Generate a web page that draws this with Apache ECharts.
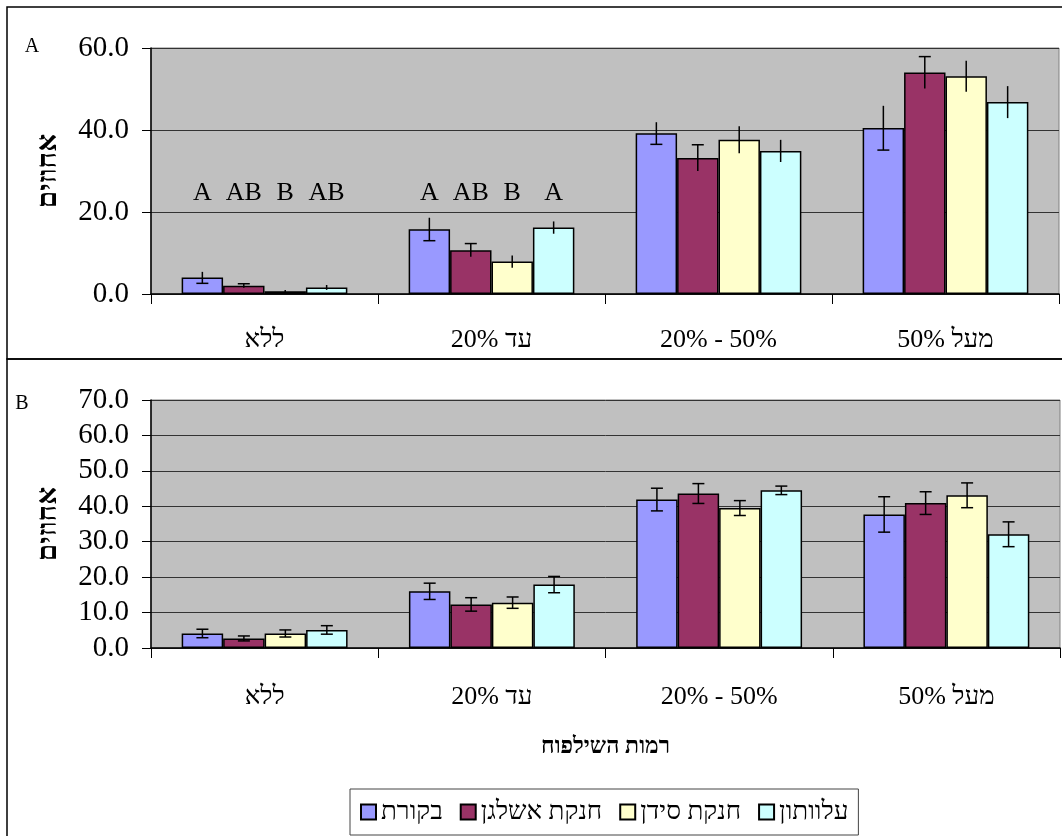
<!DOCTYPE html>
<html>
<head>
<meta charset="utf-8">
<script src="https://cdn.jsdelivr.net/npm/echarts@6.0.0/dist/echarts.min.js"></script>
<style>
  html, body { margin: 0; padding: 0; background: #fff; }
  #chart { width: 1062px; height: 836px; }
</style>
</head>
<body>
<div id="chart"></div>
<script>
// categories: pruning levels
const categories = ["ללא", "עד 20%", "20% - 50%", "מעל 50%"];
const seriesNames = ["בקורת", "חנקת אשלגן", "חנקת סידן", "עלוותון"];
const colors = ["#9999FF", "#993366", "#FFFFCC", "#CCFFFF"];

// panel A
const controlA = [4.0, 15.8, 39.2, 40.5];
const potassiumA = [2.0, 10.7, 33.2, 54.0];
const calciumA = [0.7, 7.9, 37.6, 53.1];
const foliarA = [1.6, 16.2, 34.9, 46.8];
const errControlA = [1.4, 2.8, 2.7, 5.4];
const errPotassiumA = [0.5, 1.6, 3.2, 3.9];
const errCalciumA = [0.3, 1.5, 3.3, 3.8];
const errFoliarA = [0.6, 1.5, 2.7, 3.9];
// significance letters, per series then per category
const lettersA = [
  ["A", "A", "", ""],
  ["AB", "AB", "", ""],
  ["B", "B", "", ""],
  ["AB", "A", "", ""],
];
const letterLevelA = 24.6;

// panel B
const controlB = [4.1, 16.0, 41.9, 37.7];
const potassiumB = [2.7, 12.3, 43.6, 40.9];
const calciumB = [4.1, 12.8, 39.5, 43.1];
const foliarB = [5.1, 17.9, 44.5, 32.1];
const errControlB = [1.2, 2.3, 3.2, 5.0];
const errPotassiumB = [0.7, 1.9, 2.8, 3.2];
const errCalciumB = [1.0, 1.6, 2.1, 3.5];
const errFoliarB = [1.2, 2.3, 1.2, 3.5];

const valuesA = [controlA, potassiumA, calciumA, foliarA];
const errorsA = [errControlA, errPotassiumA, errCalciumA, errFoliarA];
const valuesB = [controlB, potassiumB, calciumB, foliarB];
const errorsB = [errControlB, errPotassiumB, errCalciumB, errFoliarB];
// which end of the error bar gets a cap
const capsA = ["bottom", "top", "none", "none"];
const capsB = ["both", "both", "both", "both"];

const FONT = '"Liberation Serif", "DejaVu Serif", serif';
const CAT_GAP = 0.27;

function barSeries(k, values, g) {
  return {
    type: "bar",
    name: seriesNames[k],
    xAxisIndex: g,
    yAxisIndex: g,
    data: values,
    barGap: "0%",
    barCategoryGap: CAT_GAP * 100 + "%",
    itemStyle: { color: colors[k], borderColor: "#000", borderWidth: 1.5 },
    emphasis: { disabled: true },
    silent: true,
  };
}

function errorSeries(k, values, errs, cap, g) {
  return {
    type: "custom",
    xAxisIndex: g,
    yAxisIndex: g,
    z: 10,
    silent: true,
    data: values.map((v, i) => [i, v, errs[i]]),
    renderItem: function (params, api) {
      let cat = api.value(0);
      let v = api.value(1);
      let e = api.value(2);
      let band = api.size([1, 0])[0];
      let barW = (band * (1 - CAT_GAP)) / 4;
      let x = api.coord([cat, v])[0] + (k - 1.5) * barW;
      let yTop = api.coord([cat, v + e])[1];
      let yBot = api.coord([cat, Math.max(v - e, 0)])[1];
      let st = { stroke: "#000", lineWidth: 1.5 };
      let children = [
        { type: "line", shape: { x1: x, y1: yTop, x2: x, y2: yBot }, style: st },
      ];
      if (cap === "top" || cap === "both") {
        children.push({ type: "line", shape: { x1: x - 6, y1: yTop, x2: x + 6, y2: yTop }, style: st });
      }
      if (cap === "bottom" || cap === "both") {
        children.push({ type: "line", shape: { x1: x - 6, y1: yBot, x2: x + 6, y2: yBot }, style: st });
      }
      return { type: "group", children: children };
    },
  };
}

function letterSeries(k, g) {
  return {
    type: "custom",
    xAxisIndex: g,
    yAxisIndex: g,
    z: 11,
    silent: true,
    data: categories.map((c, i) => [i, letterLevelA]),
    renderItem: function (params, api) {
      let cat = api.value(0);
      let band = api.size([1, 0])[0];
      let barW = (band * (1 - CAT_GAP)) / 4;
      let p = api.coord([cat, api.value(1)]);
      return {
        type: "text",
        x: p[0] + (k - 1.5) * barW,
        y: p[1],
        style: {
          text: lettersA[k][params.dataIndex],
          font: "26px " + FONT,
          fill: "#000",
          align: "center",
          verticalAlign: "middle",
        },
      };
    },
  };
}

function xAxis(g, margin, name) {
  return {
    type: "category",
    gridIndex: g,
    data: categories,
    axisLine: { lineStyle: { color: "#000", width: 1.5 } },
    axisTick: { show: true, length: 10, alignWithLabel: false, lineStyle: { color: "#000" } },
    axisLabel: { color: "#000", fontSize: 26, fontFamily: FONT, margin: margin },
    splitLine: { show: false },
    name: name,
    nameLocation: "middle",
    nameGap: 88,
    nameTextStyle: { color: "#000", fontSize: 23, fontWeight: "bold", fontFamily: FONT },
  };
}

function yAxis(g, max, interval) {
  return {
    type: "value",
    gridIndex: g,
    min: 0,
    max: max,
    interval: interval,
    axisLine: { show: true, lineStyle: { color: "#000", width: 1.5 } },
    axisTick: { show: true, length: 9, lineStyle: { color: "#000" } },
    axisLabel: {
      color: "#000",
      fontSize: 29,
      fontFamily: FONT,
      margin: 22,
      formatter: (v) => v.toFixed(1),
    },
    splitLine: { show: true, lineStyle: { color: "#333", width: 1 } },
    name: "אחוזים",
    nameLocation: "middle",
    nameGap: 88,
    nameRotate: 90,
    nameTextStyle: { color: "#000", fontSize: 28, fontWeight: "bold", fontFamily: FONT },
  };
}

let series = [];
valuesA.forEach((vals, k) => series.push(barSeries(k, vals, 0)));
valuesB.forEach((vals, k) => series.push(barSeries(k, vals, 1)));
valuesA.forEach((vals, k) => series.push(errorSeries(k, vals, errorsA[k], capsA[k], 0)));
valuesB.forEach((vals, k) => series.push(errorSeries(k, vals, errorsB[k], capsB[k], 1)));
lettersA.forEach((l, k) => series.push(letterSeries(k, 0)));

let chart = echarts.init(document.getElementById("chart"));
chart.setOption({
  animation: false,
  backgroundColor: "#fff",
  grid: [
    {
      left: 151, top: 48, width: 908, height: 246,
      show: true, backgroundColor: "#C0C0C0", borderColor: "#808080", borderWidth: 1,
      outerBoundsMode: "none",
    },
    {
      left: 151, top: 400, width: 909, height: 248,
      show: true, backgroundColor: "#C0C0C0", borderColor: "#808080", borderWidth: 1,
      outerBoundsMode: "none",
    },
  ],
  xAxis: [xAxis(0, 33, ""), xAxis(1, 36, "רמות השילפוח")],
  yAxis: [yAxis(0, 60, 20), yAxis(1, 70, 10)],
  legend: {
    data: seriesNames,
    left: 350,
    top: 789,
    itemWidth: 15,
    itemHeight: 15,
    itemGap: 17,
    padding: [10, 10],
    borderColor: "#444",
    borderWidth: 1,
    icon: "rect",
    textStyle: { color: "#000", fontSize: 26, fontFamily: FONT },
  },
  graphic: [
    { type: "rect", shape: { x: 7, y: 7, width: 1070, height: 352 }, style: { fill: "none", stroke: "#000", lineWidth: 1.5 } },
    { type: "rect", shape: { x: 7, y: 359, width: 1070, height: 500 }, style: { fill: "none", stroke: "#000", lineWidth: 1.5 } },
    { type: "text", x: 32, y: 47, style: { text: "A", font: "20px " + FONT, fill: "#000", align: "center", verticalAlign: "middle" } },
    { type: "text", x: 22, y: 404, style: { text: "B", font: "20px " + FONT, fill: "#000", align: "center", verticalAlign: "middle" } },
  ],
  series: series,
});
</script>
</body>
</html>
